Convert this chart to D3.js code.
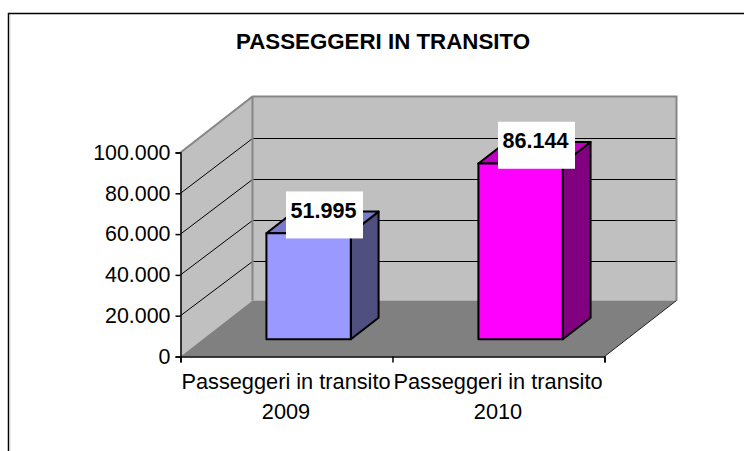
<!DOCTYPE html>
<html>
<head>
<meta charset="utf-8">
<script src="https://cdn.jsdelivr.net/npm/d3@7/dist/d3.min.js"></script>
<style>
html,body{margin:0;padding:0;background:#fff;}
svg{display:block;}
text{font-family:"Liberation Sans",Arial,sans-serif;fill:#000;}
</style>
</head>
<body>
<svg id="chart" width="744" height="451"></svg>
<script>
const titleText = "PASSEGGERI IN TRANSITO";
const categories = ["Passeggeri in transito 2009", "Passeggeri in transito 2010"];
const categoryLines = [["Passeggeri in transito", "2009"], ["Passeggeri in transito", "2010"]];
const values = [51995, 86144];
const valueLabels = ["51.995", "86.144"];
const yTicks = [0, 20000, 40000, 60000, 80000, 100000];
const frontColors = ["#9999ff", "#ff00ff"];
const sideColors = ["#4f4f80", "#800080"];
const topColors = ["#7a7acc", "#c000c0"];

const svg = d3.select("#chart");
const x = d3.scaleBand().domain(categories).range([180.5, 604.5]);
const y = d3.scaleLinear().domain([0, 100000]).range([356.5, 152.5]);
const depthX = 72, depthY = 56;
const barShare = 0.398, zFront = 0.307, zBack = 0.693;
const proj = (px, v, z) => [px + z * depthX, y(v) - z * depthY];
const line = pts => "M" + pts.map(p => p.join(",")).join("L") + "Z";
const [xMin, xMax] = x.range();
const vTop = y.domain()[1];

// outer frame
svg.append("path").attr("d", "M8.5,451V13.5H744").attr("fill", "none").attr("stroke", "#000").attr("stroke-width", 1.5);
svg.append("line").attr("x1", 10).attr("x2", 10).attr("y1", 15).attr("y2", 451).attr("stroke", "#d4d4d4").attr("stroke-width", 1);

// walls and floor
svg.append("path").attr("d", line([proj(xMin,0,1), proj(xMax,0,1), proj(xMax,vTop,1), proj(xMin,vTop,1)]))
  .attr("fill", "#c0c0c0");
svg.append("path").attr("d", line([proj(xMin,0,0), proj(xMin,0,1), proj(xMin,vTop,1), proj(xMin,vTop,0)]))
  .attr("fill", "#c0c0c0");
svg.append("path").attr("d", line([proj(xMin,0,0), proj(xMax,0,0), proj(xMax,0,1), proj(xMin,0,1)]))
  .attr("fill", "#808080");

// gridlines
yTicks.filter(t => t > 0 && t < 100000).forEach(t => {
  const a = proj(xMin,t,0), b = proj(xMin,t,1), c = proj(xMax,t,1);
  const back = Math.round(b[1] + 1) + 0.5;
  svg.append("path").attr("d", `M${a}L${b[0]},${back}L${c[0]},${back}`).attr("fill", "none").attr("stroke", "#000").attr("stroke-width", 1);
});

// wall outlines
svg.append("path")
  .attr("d", `M${proj(xMin,vTop,0)}L${proj(xMin,vTop,1)}L${proj(xMax,vTop,1)}L${proj(xMax,0,1)}M${proj(xMin,vTop,1)}L${proj(xMin,0,1)}`)
  .attr("fill", "none").attr("stroke", "#868686").attr("stroke-width", 2);
svg.append("path").attr("d", `M${proj(xMax,0,0)}L${proj(xMax,0,1)}`)
  .attr("fill", "none").attr("stroke", "#222").attr("stroke-width", 1);

// bars
const bars = svg.selectAll("g.bar").data(categories).join("g").attr("class", "bar");
bars.each(function(c, i) {
  const g = d3.select(this);
  const mid = x(c) + x.bandwidth() / 2, w = x.bandwidth() * barShare;
  const l = mid - w / 2, r = mid + w / 2, v = values[i];
  const st = s => s.attr("stroke", "#000").attr("stroke-width", 2).attr("stroke-linejoin", "round");
  st(g.append("path").attr("d", line([proj(r,0,zFront), proj(r,0,zBack), proj(r,v,zBack), proj(r,v,zFront)])).attr("fill", sideColors[i]));
  st(g.append("path").attr("d", line([proj(l,v,zFront), proj(r,v,zFront), proj(r,v,zBack), proj(l,v,zBack)])).attr("fill", topColors[i]));
  st(g.append("path").attr("d", line([proj(l,0,zFront), proj(r,0,zFront), proj(r,v,zFront), proj(l,v,zFront)])).attr("fill", frontColors[i]));
});

// axes
const fmt = d3.formatLocale({decimal: ",", thousands: ".", grouping: [3], currency: ["", ""]}).format(",d");
const yAxis = svg.append("g").attr("transform", `translate(${xMin},0)`)
  .call(d3.axisLeft(y).tickValues(yTicks).tickFormat(fmt).tickSize(5).tickPadding(5));
yAxis.selectAll("text").attr("font-size", 21.4).style("font-family", '"Liberation Sans",Arial,sans-serif');

const edge = d3.scaleLinear().domain([0, categories.length]).range(x.range());
const xAxis = svg.append("g").attr("transform", `translate(0,${y(0)})`)
  .call(d3.axisBottom(edge).tickValues(d3.range(categories.length + 1)).tickFormat("").tickSize(6));
[yAxis, xAxis].forEach(a => {
  a.selectAll("path,line").attr("stroke", "#000").attr("stroke-width", 1.5);
});

// category labels
categories.forEach((c, i) => {
  const mid = x(c) + x.bandwidth() / 2 - 0.5;
  categoryLines[i].forEach((t, j) => {
    svg.append("text").attr("x", mid).attr("y", 389 + j * 30)
      .attr("text-anchor", "middle").attr("font-size", 21.75).text(t);
  });
});

// value labels
categories.forEach((c, i) => {
  const mid = x(c) + x.bandwidth() / 2;
  const [cx, cy] = proj(mid, values[i], 0.5);
  const bx = cx + 2, by = cy - 7.5;
  svg.append("rect").attr("x", bx - 38.5).attr("y", by - 23.5).attr("width", 77).attr("height", 47).attr("fill", "#fff");
  svg.append("text").attr("x", bx - 1).attr("y", by + 3).attr("text-anchor", "middle")
    .attr("font-size", 21.6).attr("font-weight", "bold").text(valueLabels[i]);
});

// title
svg.append("text").attr("x", 383).attr("y", 49).attr("text-anchor", "middle")
  .attr("font-size", 22.3).attr("font-weight", "bold").text(titleText);
</script>
</body>
</html>
